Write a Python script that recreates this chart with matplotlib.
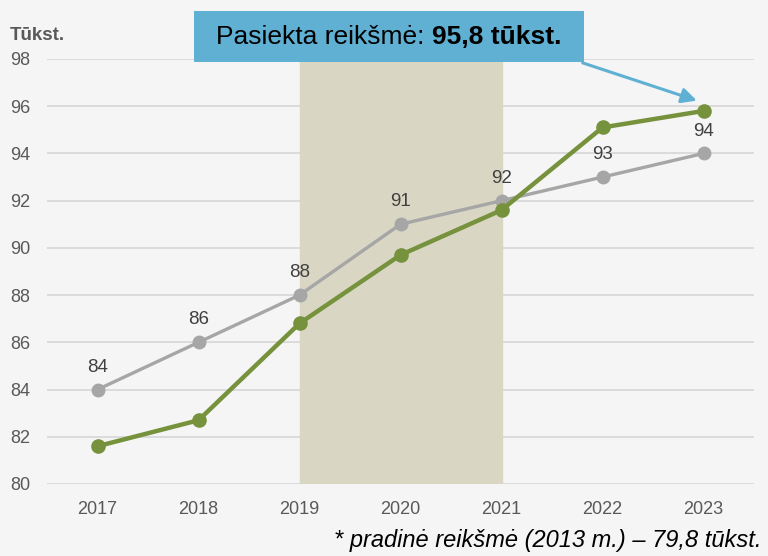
import matplotlib.pyplot as plt
from matplotlib.patches import Rectangle

plt.rcParams['font.family'] = ['Liberation Sans', 'DejaVu Sans']

years = ['2017', '2018', '2019', '2020', '2021', '2022', '2023']
planned = [84, 86, 88, 91, 92, 93, 94]
actual = [81.6, 82.7, 86.8, 89.7, 91.6, 95.1, 95.8]
y_ticks = [80, 82, 84, 86, 88, 90, 92, 94, 96, 98]
shade_from, shade_to = '2019', '2021'

fig = plt.figure(figsize=(7.68, 5.56), dpi=100, facecolor='#f5f5f5')
ax = fig.add_axes([0.0612, 0.1295, 0.9206, 0.7644])
ax.set_facecolor('#f5f5f5')

xs = list(range(len(years)))
ax.axvspan(years.index(shade_from), years.index(shade_to), color='#d9d6c4', zorder=1)

for y in y_ticks:
    ax.axhline(y, color='#d9d9d9', lw=1.3, zorder=0)

ax.plot(xs, planned, color='#a6a6a6', lw=2.4, marker='o', ms=9, zorder=3)
ax.plot(xs, actual, color='#76923c', lw=3.2, marker='o', ms=9.5, zorder=4)

for x, v in zip(xs, planned):
    ax.annotate(f'{v}', (x, v), xytext=(0, 10), textcoords='offset points',
                ha='center', va='bottom', fontsize=13.5, color='#404040')

ax.set_xlim(-0.5, len(years) - 0.5)
ax.set_ylim(80, 98)
ax.set_xticks(xs)
ax.set_xticklabels(years)
ax.set_yticks(y_ticks)
ax.tick_params(length=0, labelsize=13, labelcolor='#595959')
ax.tick_params(axis='x', pad=12)
ax.tick_params(axis='y', pad=12)
for s in ax.spines.values():
    s.set_visible(False)

fig.text(10 / 768, 1 - 35 / 556, 'Tūkst.', fontsize=13.5, fontweight='bold',
         color='#595959', va='center', ha='left')

# callout box
fig.patches.append(Rectangle((194 / 768, 1 - 62 / 556), 390 / 768, 51 / 556,
                             transform=fig.transFigure, facecolor='#5fb0d3',
                             edgecolor='none', zorder=5))
fig.text(216 / 768, 1 - 37 / 556, 'Pasiekta reikšmė:', fontsize=19,
         va='center', ha='left', color='black', zorder=6)
fig.text(432 / 768, 1 - 37 / 556, '95,8 tūkst.', fontsize=19, fontweight='bold',
         va='center', ha='left', color='black', zorder=6)
ax.annotate('', xy=(5.96, 96.2), xycoords='data',
            xytext=(580 / 768, 1 - 62 / 556), textcoords='figure fraction',
            arrowprops=dict(arrowstyle='-|>,head_length=0.9,head_width=0.45',
                            color='#5fb0d3', lw=2.2), annotation_clip=False)

fig.text(762 / 768, 1 - 541 / 556, '* pradinė reikšmė (2013 m.) – 79,8 tūkst.',
         fontsize=17, style='italic', ha='right', va='center', color='black')

fig.savefig('out.png', dpi=100, facecolor=fig.get_facecolor())
